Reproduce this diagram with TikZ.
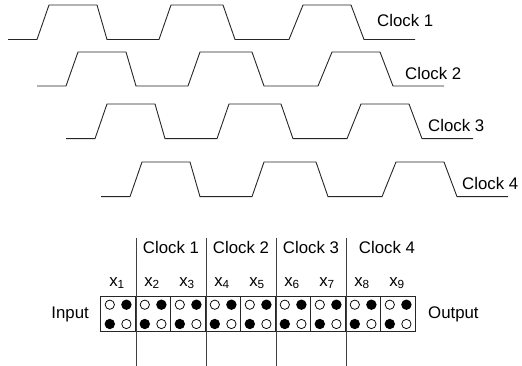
\documentclass[tikz,border=0pt]{standalone}
\usepackage{fontspec}
\setmainfont{Liberation Sans}
\usetikzlibrary{calc}
\begin{document}
\begin{tikzpicture}[x=1pt,y=-1pt,
  wave/.style={line width=0.9pt,draw=black!85,line join=miter},
  lbl/.style={inner sep=0pt,font=\fontsize{16.8}{18}\selectfont},
  cellbox/.style={draw=black!85,line width=0.8pt,minimum width=35pt,minimum height=35pt,inner sep=0pt},
  sep/.style={line width=0.8pt,draw=black!75},
  opendot/.style={circle,draw=black,line width=0.75pt,fill=white,minimum size=9.3pt,inner sep=0pt},
  fulldot/.style={circle,fill=black,minimum size=10.4pt,inner sep=0pt}]
\useasboundingbox (0,0) rectangle (522,366);
% waveforms
\foreach \n/\sx/\lo/\hi in {1/0/39.5/5,2/29/86/52,3/58/138.7/104,4/93/196.7/162}{
  \draw[wave] (8+\sx,\lo) -- (37+\sx,\lo) -- (49+\sx,\hi) -- (97+\sx,\hi) -- (107+\sx,\lo)
    -- (159+\sx,\lo) -- (171+\sx,\hi) -- (223+\sx,\hi) -- (235+\sx,\lo)
    -- (289+\sx,\lo) -- (303+\sx,\hi) -- (351+\sx,\hi) -- (364+\sx,\lo) -- (415+\sx,\lo);
}
\node[lbl,anchor=west] (c1) at (377,20) {Clock 1};
\node[lbl,anchor=west] (c2) at (405,73) {Clock 2};
\node[lbl,anchor=west] (c3) at (428,125) {Clock 3};
\node[lbl,anchor=west] (c4) at (462,183) {Clock 4};
% cells
\foreach \i in {1,...,9}{
  \node[cellbox] (cell\i) at (83.2+35*\i,313.5) {};
  \node[opendot] (a\i) at ($(cell\i.center)+(-8.4,-8.8)$) {};
  \node[fulldot] (b\i) at ($(cell\i.center)+(8.2,-8.8)$) {};
  \node[fulldot] (d\i) at ($(cell\i.center)+(-8.4,10.5)$) {};
  \node[opendot] (e\i) at ($(cell\i.center)+(8.2,10.5)$) {};
  \node[lbl] (x\i) at (82+35*\i,283) {x\textsubscript{\i}};
}
% separators
\foreach \k/\xx in {1/136,2/206,3/276,4/346}{
  \coordinate (s\k) at (\xx,238);
  \coordinate (t\k) at (\xx,366);
  \draw[sep] (s\k) -- (t\k);
}
\node[lbl] (k1) at (171,247) {Clock 1};
\node[lbl] (k2) at (241,247) {Clock 2};
\node[lbl] (k3) at (311,247) {Clock 3};
\node[lbl] (k4) at (387,247) {Clock 4};
\node[lbl,anchor=east] (in) at (89,314) {Input};
\node[lbl,anchor=west] (out) at (428,314) {Output};
\end{tikzpicture}
\end{document}
